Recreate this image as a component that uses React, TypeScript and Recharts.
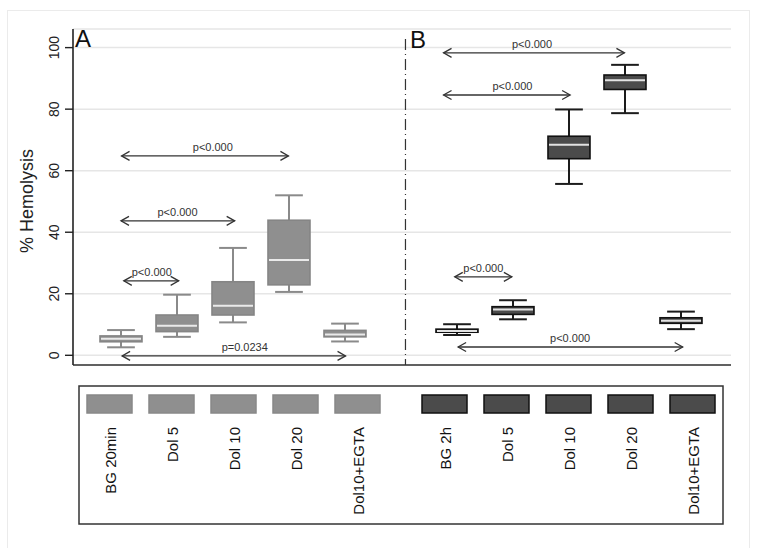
import React from 'react'
import { ComposedChart, Bar, XAxis, YAxis, CartesianGrid, ReferenceLine } from 'recharts'

// ── Data ───────────────────────────────────────────────────────

const groups = ['A', 'A', 'A', 'A', 'A', 'B', 'B', 'B', 'B', 'B']
const labels = ['BG 20min', 'Dol 5', 'Dol 10', 'Dol 20', 'Dol10+EGTA', 'BG 2h', 'Dol 5', 'Dol 10', 'Dol 20', 'Dol10+EGTA']
const positions = [0, 1, 2, 3, 4, 6, 7, 8, 9, 10]
const whiskerLow = [2.6, 6.0, 10.7, 20.6, 4.5, 6.6, 11.7, 55.7, 78.7, 8.5]
const q1 = [4.4, 7.7, 13.1, 22.9, 6.0, 7.5, 13.3, 63.9, 86.4, 10.4]
const median = [5.4, 9.6, 16.1, 31.0, 6.8, 7.9, 14.9, 68.4, 89.4, 11.2]
const q3 = [6.3, 13.1, 23.9, 43.9, 8.1, 8.5, 15.8, 71.2, 91.1, 12.2]
const whiskerHigh = [8.2, 19.7, 34.9, 52.0, 10.3, 10.1, 17.9, 79.9, 94.4, 14.2]

const yTicks = [0, 20, 40, 60, 80, 100]

// p-value brackets (x in group positions, y in % hemolysis)
const pFrom = [0.01, 0.0, 0.05, 0.02, 5.76, 5.76, 5.96, 6.02]
const pTo = [2.99, 2.03, 1.03, 4.01, 8.99, 8.02, 6.98, 10.03]
const pAt = [64.8, 43.7, 24.2, -0.2, 98.3, 84.6, 25.5, 2.7]
const pText = ['p<0.000', 'p<0.000', 'p<0.000', 'p=0.0234', 'p<0.000', 'p<0.000', 'p<0.000', 'p<0.000']
const pTextAt = [1.64, 1.01, 0.55, 2.21, 7.34, 6.99, 6.47, 8.02]

const rows = labels.map((name, i) => ({
  name,
  group: groups[i],
  pos: positions[i],
  lo: whiskerLow[i],
  q1: q1[i],
  med: median[i],
  q3: q3[i],
  hi: whiskerHigh[i],
}))

// ── Styles ─────────────────────────────────────────────────────

const FONT = '"Liberation Sans", Arial, sans-serif'

const COLORS: Record<string, { fill: string; stroke: string; whisker: string; median: string }> = {
  A: { fill: '#8f8f8f', stroke: '#858585', whisker: '#8a8a8a', median: '#eaeaea' },
  B: { fill: '#4b4b4b', stroke: '#111111', whisker: '#1c1c1c', median: '#e2e2e2' },
}

// ── Shapes ─────────────────────────────────────────────────────

function BoxShape(props: any) {
  const { x, y, width, height, payload } = props
  if (!payload || !height) return null
  const c = COLORS[payload.group]
  const k = height / (payload.hi - payload.lo)
  const py = (v: number) => y + (payload.hi - v) * k
  const cx = x + width / 2
  const cap = width * 0.66
  return (
    <g>
      <line x1={cx} x2={cx} y1={py(payload.hi)} y2={py(payload.q3)} stroke={c.whisker} strokeWidth={2} />
      <line x1={cx} x2={cx} y1={py(payload.q1)} y2={py(payload.lo)} stroke={c.whisker} strokeWidth={2} />
      <line x1={cx - cap / 2} x2={cx + cap / 2} y1={py(payload.hi)} y2={py(payload.hi)} stroke={c.whisker} strokeWidth={2} />
      <line x1={cx - cap / 2} x2={cx + cap / 2} y1={py(payload.lo)} y2={py(payload.lo)} stroke={c.whisker} strokeWidth={2} />
      <rect x={x} y={py(payload.q3)} width={width} height={py(payload.q1) - py(payload.q3)}
        fill={c.fill} stroke={c.stroke} strokeWidth={1.6} />
      <line x1={x + 1} x2={x + width - 1} y1={py(payload.med)} y2={py(payload.med)} stroke={c.median} strokeWidth={2} />
    </g>
  )
}

function makeArrow(i: number) {
  return (props: any) => {
    const { x1, y1, x2 } = props
    if (x1 == null) return <g />
    const y = y1
    const tx = x1 + ((pTextAt[i] - pFrom[i]) / (pTo[i] - pFrom[i])) * (x2 - x1)
    return (
      <g>
        <line x1={x1} x2={x2} y1={y} y2={y} stroke="#333" strokeWidth={1.3} />
        <polyline points={`${x1 + 8},${y - 4.5} ${x1},${y} ${x1 + 8},${y + 4.5}`} fill="none" stroke="#333" strokeWidth={1.3} />
        <polyline points={`${x2 - 8},${y - 4.5} ${x2},${y} ${x2 - 8},${y + 4.5}`} fill="none" stroke="#333" strokeWidth={1.3} />
        <text x={tx} y={y - 5} textAnchor="middle" fontSize={11} fontFamily={FONT} fill="#333">{pText[i]}</text>
      </g>
    )
  }
}

function YTick(props: any) {
  const { x, y, payload } = props
  return (
    <text x={x - 4} y={y} transform={`rotate(-90 ${x - 4} ${y})`} textAnchor="middle"
      fontSize={14} fontFamily={FONT} fill="#222">
      {payload.value}
    </text>
  )
}

function YLabel(props: any) {
  const vb = props.viewBox || { x: 0, y: 29, width: 73, height: 336 }
  const lx = vb.x + 33
  const ly = vb.y + vb.height / 2 + 4
  return (
    <text x={lx} y={ly} transform={`rotate(-90 ${lx} ${ly})`} textAnchor="middle"
      fontSize={18} fontFamily={FONT} fill="#222">
      % Hemolysis
    </text>
  )
}

// ── Legend panel ───────────────────────────────────────────────

function LegendPanel() {
  return (
    <svg width={759} height={548} style={{ position: 'absolute', left: 0, top: 0, pointerEvents: 'none' }}>
      <rect x={79} y={386} width={644} height={138} fill="none" stroke="#333" strokeWidth={1.5} />
      {labels.map((name, i) => {
        const g = groups[i]
        const sx = g === 'A' ? 87 + 62 * i : 422 + 62 * (i - 5)
        const cx = sx + 22.5
        const c = COLORS[g]
        return (
          <g key={i}>
            <rect x={sx} y={395} width={45} height={18} fill={c.fill} stroke={g === 'A' ? '#888' : '#111'} strokeWidth={1.5} />
            <text x={cx + 6} y={427} transform={`rotate(-90 ${cx + 6} 427)`} textAnchor="end"
              fontSize={15} fontFamily={FONT} fill="#111">
              {name}
            </text>
          </g>
        )
      })}
    </svg>
  )
}

// ── App ────────────────────────────────────────────────────────

export default function App() {
  return (
    <div style={{ position: 'absolute', left: 0, top: 0, width: 759, height: 548, overflow: 'hidden', background: '#fff' }}>
      <div style={{ position: 'absolute', left: 7, top: 10, width: 741, height: 560, border: '1px solid #ebebeb' }} />
      <div style={{ position: 'absolute', left: 0, top: 0 }}>
        <ComposedChart width={759} height={548} data={rows} margin={{ top: 29, right: 28, bottom: 182, left: 0 }}>
          <CartesianGrid vertical={false} stroke="#e6e6e6" strokeWidth={1.5} />
          <XAxis type="number" dataKey="pos" domain={[-0.857, 10.893]} allowDataOverflow
            tick={false} tickLine={false} height={1} axisLine={{ stroke: '#333', strokeWidth: 1.5 }} />
          <YAxis type="number" domain={[-3.15, 106.05]} allowDataOverflow ticks={yTicks} interval={0}
            width={73} tickSize={8} tick={<YTick />} axisLine={{ stroke: '#222', strokeWidth: 1.6 }}
            tickLine={{ stroke: '#222', strokeWidth: 1.4 }} label={<YLabel />} />
          <ReferenceLine segment={[{ x: 5.08, y: 102.8 }, { x: 5.08, y: -3.15 }]}
            stroke="#333" strokeWidth={1.2} strokeDasharray="11 4 1 4" ifOverflow="visible" />
          {pText.map((_, i) => (
            <ReferenceLine key={i} segment={[{ x: pFrom[i], y: pAt[i] }, { x: pTo[i], y: pAt[i] }]}
              ifOverflow="visible" shape={makeArrow(i)} />
          ))}
          <Bar dataKey={(d: any) => [d.lo, d.hi]} barSize={42} shape={BoxShape} isAnimationActive={false} />
          <text x={75} y={47} fontSize={24} fontFamily={FONT} fill="#111">A</text>
          <text x={410} y={48} fontSize={24} fontFamily={FONT} fill="#111">B</text>
        </ComposedChart>
      </div>
      <LegendPanel />
    </div>
  )
}
